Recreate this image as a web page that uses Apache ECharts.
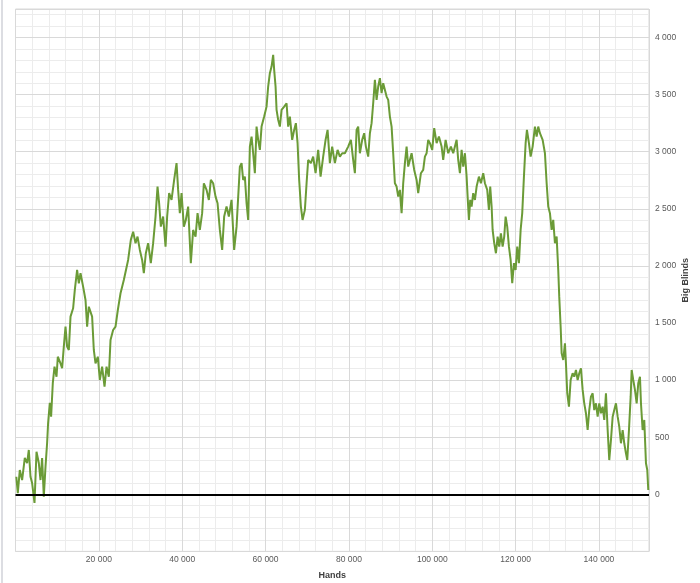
<!DOCTYPE html>
<html>
<head>
<meta charset="utf-8">
<script src="https://cdn.jsdelivr.net/npm/echarts@6/dist/echarts.min.js"></script>
<style>
html,body{margin:0;padding:0;background:#fff;}
#chart{width:700px;height:583px;}
</style>
</head>
<body>
<div id="chart"></div>
<script>
// Hands played (x) and cumulative winnings in big blinds (y)
const hands = [
  200, 552, 1032, 1584, 2232, 2784, 3192, 3600, 3984, 4560, 5040, 5592, 6000, 6384, 6792, 7200, 7584, 7824, 8232, 8544,
  8952, 9360, 9840, 10152, 10800, 11184, 11592, 12000, 12384, 12792, 13200, 13824, 14232, 14784, 15192, 15600, 16224, 16800, 17184, 17592,
  18384, 18792, 19200, 19752, 20232, 20784, 21360, 21840, 22392, 22800, 23424, 24000, 24552, 25200, 25992,
  27024, 27672, 28224, 28800, 29280, 29832, 30384, 30792, 31272, 31824, 32472, 33024, 33600, 34080, 34464, 34872, 35424, 36000, 36384,
  36864, 37440, 38064, 38640, 39024, 39432, 39840, 40392, 40872, 41424, 42072, 42624, 43200, 43680, 44232, 44784, 45192, 45840, 46392,
  46872, 47424, 48000, 48480, 49032, 49584, 50064, 50640, 51192, 51840, 52464, 53040,
  53832, 54240, 54624, 55032, 55440, 55824, 56232, 56640, 57024, 57432, 57840, 58224, 58632, 59040, 59664, 60240, 60624, 61032, 61440,
  61824, 62064, 62400, 62640, 63024, 63432, 63840, 64464, 65040, 65424, 65832, 66384, 66864, 67272, 67680, 68064, 68472, 68880, 69432,
  69840, 70224, 70872, 71424, 72000, 72624, 73200, 73824, 74400, 74880, 75432, 75984, 76632, 77280, 77832, 78384,
  79032, 79824, 80472, 81024, 81432, 81840, 82224, 82632, 83184, 83664, 84072, 84624, 85032, 85440, 85824, 86232, 86640, 87024, 87432,
  87840, 88224, 88632, 89040, 89424, 89832, 90240, 90624, 91032, 91440, 91824, 92232, 92640, 93024, 93432, 93840, 94224, 94632, 95040,
  95664, 96240, 96624, 97272, 97824, 98232, 98640, 99024, 99432, 99984, 100464, 101040, 101592, 102240, 102624, 103200, 103824, 104472, 105024,
  105432, 105840, 106224, 106632, 107040, 107424, 107832, 108240, 108480, 108792, 109104, 109440, 109824, 110232, 110640, 111192, 111672,
  112224, 112632, 113184, 113592, 113904, 114240, 114480, 114864, 115272, 115680, 116064, 116472, 116880, 117264, 117600, 117984, 118392,
  118800, 119184, 119592, 120000, 120384, 120792, 121200, 121584, 121992, 122400, 122712, 123192, 123600, 124080, 124632, 125040, 125424,
  125832, 126480, 127032, 127440, 127824, 128232, 128640, 129024, 129432, 129840, 130224, 130464, 130800, 131040, 131424, 131832, 132072,
  132384, 132792, 133200, 133680, 134064, 134472, 134880, 135264, 135672, 136080, 136464, 136872, 137280, 137664, 138072, 138480, 138864,
  139272, 139680, 140064, 140472, 140880, 141264, 141672, 142080, 142464, 142872, 143280, 143664, 144072, 144480, 144864, 145272, 145680,
  146064, 146472, 146784, 147192, 147600, 147840, 148224, 148632, 149040, 149424, 149832, 150072, 150472, 150864, 151272, 151584, 151824
];
const bigBlinds = [
  154, 10, 213, 125, 318, 274, 388, 154, 99, -76, 373, 274, 125, 318, -20, 242, 449, 624, 800, 680,
  975, 1118, 1030, 1205, 1147, 1104, 1293, 1468, 1293, 1264, 1556, 1629, 1790, 1965, 1848, 1936, 1819, 1702, 1468, 1643,
  1556, 1264, 1147, 1205, 1001, 1118, 942, 1118, 1030, 1352, 1439, 1468, 1614, 1761, 1877,
  2052, 2228, 2300, 2199, 2257, 2140, 2052, 1936, 2111, 2199, 2024, 2199, 2432, 2695, 2549, 2344, 2432, 2169, 2432,
  2637, 2578, 2753, 2900, 2666, 2462, 2637, 2344, 2403, 2520, 2024, 2315, 2257, 2462, 2315, 2462, 2724, 2666, 2578,
  2753, 2724, 2607, 2549, 2315, 2140, 2432, 2520, 2432, 2578, 2140, 2344,
  2870, 2900, 2753, 2782, 2549, 2403, 3045, 3133, 2987, 2812, 3220, 3104, 3016, 3220, 3308, 3395, 3571, 3688, 3746,
  3848, 3717, 3571, 3366, 3279, 3220, 3366, 3395, 3425, 3220, 3308, 3104, 3191, 3250, 3075, 2753, 2520, 2403, 2491,
  2724, 2928, 2900, 2957, 2812, 3016, 2782, 2957, 3104, 3191, 2900, 3045, 2900, 3016, 2957, 2987,
  2987, 3045, 3104, 2928, 2812, 3191, 3220, 2987, 3104, 3162, 3045, 2957, 3162, 3250, 3425, 3629, 3454, 3571, 3644,
  3513, 3600, 3600, 3483, 3454, 3308, 3220, 2987, 2724, 2695, 2607, 2666, 2462, 2724, 2900, 3045, 2870, 2928, 2987,
  2841, 2753, 2637, 2812, 2841, 2957, 2987, 3104, 3075, 3016, 3206, 3075, 3133, 3045, 2928, 3104, 2987, 3045, 2987,
  3045, 3104, 2928, 2812, 3016, 2870, 2987, 2782, 2607, 2403, 2578, 2520, 2637, 2578, 2695, 2782, 2724,
  2812, 2724, 2666, 2491, 2695, 2520, 2315, 2199, 2111, 2257, 2169, 2286, 2169, 2257, 2432, 2344, 2169,
  2052, 1848, 2024, 1965, 2169, 2024, 2315, 2462, 2782, 3075, 3191, 3075, 2957, 3045, 3220, 3133, 3220,
  3162, 3104, 2987, 2724, 2520, 2462, 2315, 2403, 2199, 2257, 1965, 1731, 1468, 1235, 1176, 1323, 1147,
  885, 767, 1001, 1060, 1030, 1089, 1001, 1060, 1104, 914, 797, 710, 563, 738, 855, 885, 738,
  797, 680, 797, 710, 767, 651, 885, 563, 300, 476, 680, 738, 797, 680, 592, 447, 563,
  447, 359, 300, 563, 855, 1089, 1001, 914, 797, 972, 1030, 797, 563, 651, 272, 213, 38
];
// Axis settings
const xMin = 0, xMax = 152000, xMajor = 20000, xMinor = 4000;
const yMin = -500, yMax = 4250, yMajor = 500, yMinor = 100;
const xTitle = 'Hands';
const yTitle = 'Big Blinds';

const fmt = v => String(v).replace(/\B(?=(\d{3})+(?!\d))/g, ' ');
const seriesData = hands.map((h, i) => [h, bigBlinds[i]]);

const chart = echarts.init(document.getElementById('chart'), null, {renderer: 'canvas'});
const FONT = 'Liberation Sans';
chart.setOption({
  animation: false,
  backgroundColor: '#ffffff',
  grid: {left: 15.5, right: 51, top: 9, bottom: 31.6, show: true, borderColor: '#d9d9d9', borderWidth: 1,
         backgroundColor: 'transparent', containLabel: false, outerBoundsMode: 'none'},
  graphic: [{type: 'rect', shape: {x: 1, y: 0, width: 2, height: 583}, style: {fill: '#dcdde2'}, silent: true}],
  xAxis: [
    {type: 'value', min: xMin, max: xMax, interval: xMajor, z: 1,
     name: xTitle, nameLocation: 'middle', nameGap: 20, nameMoveOverlap: false,
     nameTextStyle: {fontFamily: FONT, fontSize: 9, fontWeight: 'bold', color: '#404040'},
     axisLine: {show: false},
     axisTick: {show: true, length: 3, lineStyle: {color: '#d9d9d9'}},
     axisLabel: {formatter: fmt, showMinLabel: false, showMaxLabel: false, margin: 4, fontFamily: FONT, fontSize: 8.5, color: '#595959'},
     splitLine: {show: true, lineStyle: {color: '#d9d9d9', width: 1}}},
    {type: 'value', min: xMin, max: xMax, interval: xMinor, z: 0, show: true,
     axisLine: {show: false}, axisTick: {show: false}, axisLabel: {show: false},
     splitLine: {show: true, lineStyle: {color: '#ececec', width: 1}}}
  ],
  yAxis: [
    {type: 'value', position: 'right', min: yMin, max: yMax, interval: yMajor, z: 1,
     name: yTitle, nameLocation: 'middle', nameGap: 32, nameRotate: 90, nameMoveOverlap: false,
     nameTextStyle: {fontFamily: FONT, fontSize: 9, fontWeight: 'bold', color: '#404040'},
     axisLine: {show: false},
     axisTick: {show: true, length: 3, lineStyle: {color: '#d9d9d9'}},
     axisLabel: {formatter: fmt, showMinLabel: false, showMaxLabel: false, margin: 6, fontFamily: FONT, fontSize: 8.5, color: '#595959'},
     splitLine: {show: true, lineStyle: {color: '#d9d9d9', width: 1}}},
    {type: 'value', position: 'right', min: yMin, max: yMax, interval: yMinor, z: 0,
     axisLine: {show: false}, axisTick: {show: false}, axisLabel: {show: false},
     splitLine: {show: true, lineStyle: {color: '#ececec', width: 1}}}
  ],
  series: [{
    type: 'line', xAxisIndex: 0, yAxisIndex: 0, data: seriesData,
    showSymbol: false, symbol: 'none', sampling: null, z: 3,
    lineStyle: {color: '#6b9b37', width: 2},
    markLine: {silent: true, symbol: 'none', label: {show: false},
      lineStyle: {color: '#000000', width: 2, type: 'solid'},
      data: [{yAxis: 0}], z: 4}
  }]
});
</script>
</body>
</html>
